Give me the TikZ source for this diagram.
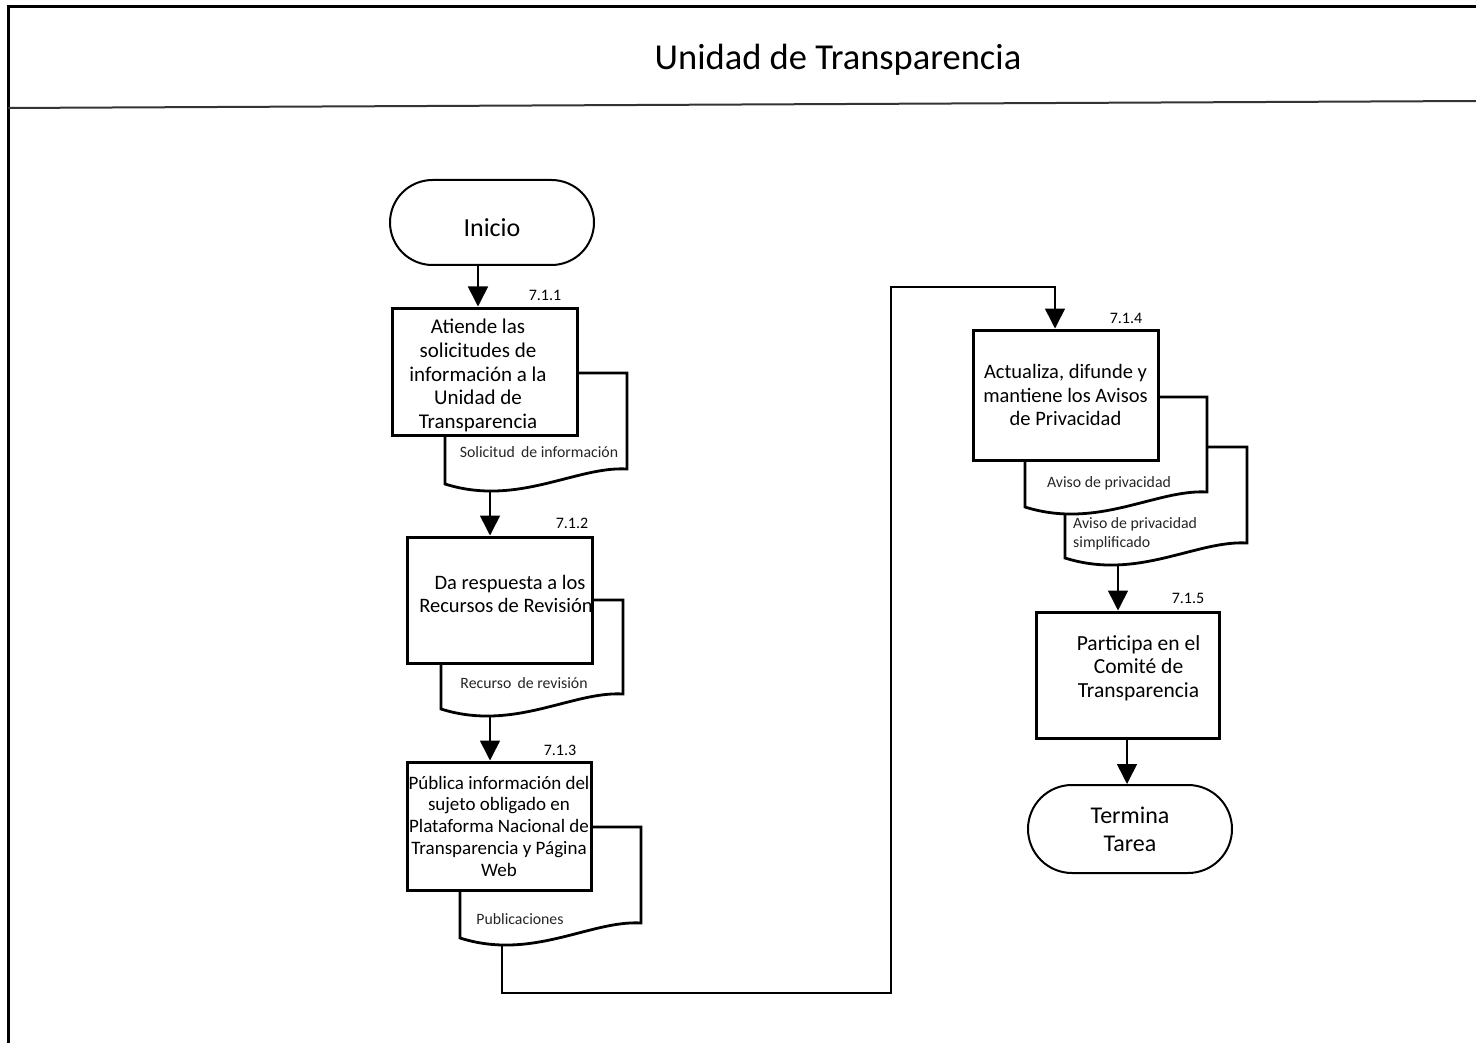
\documentclass[tikz,border=0pt]{standalone}
\usepackage{fontspec}
\setmainfont{Carlito}
\usetikzlibrary{arrows.meta,shapes.misc}
\newcommand\docshape[5]{%
  % #1 left, #2 top, #3 right, #4 bottom-right y, #5 style
  \pgfmathsetmacro\dw{#3-#1}
  \draw[#5] (#1,#2) -- (#1,#4+15)
    .. controls ({#1+0.4*\dw},#4+38) and ({#1+0.72*\dw},#4-3) .. (#3,#4)
    -- (#3,#2) -- cycle;}
\tikzset{
  proc/.style={draw, line width=3pt, fill=white, inner sep=2pt, align=center,
    font=\fontsize{20.5}{23.5}\selectfont},
  boxtext/.style={inner sep=0pt, align=center, font=\fontsize{20.5}{23.5}\selectfont},
  term/.style={draw, line width=2pt, fill=white, rounded rectangle, inner sep=0pt,
    align=center, font=\fontsize{24}{28}\selectfont},
  docline/.style={draw, line width=2.8pt, fill=white},
  doctext/.style={font=\fontsize{15.8}{19}\selectfont, inner sep=0pt, text=black!85},
  steplabel/.style={font=\fontsize{16}{18}\selectfont, inner sep=0pt},
  conn/.style={line width=1.6pt, -{Triangle[length=20pt,width=20pt]}},
}
\begin{document}
\begin{tikzpicture}[x=1pt,y=-1pt]
\useasboundingbox (0,0) rectangle (1476,1043);
% frame
\draw[line width=3pt] (8,1043) -- (8,7) -- (1476,7);
\draw[line width=2pt, black!80] (8,108) -- (1476,101);
\node[font=\fontsize{36.5}{42}\selectfont, inner sep=0pt] (title) at (838,60) {Unidad de Transparencia};

% start
\node[term, minimum width=204pt, minimum height=85pt, font=\fontsize{26}{30}\selectfont] (ini) at (492,222.5) {\raisebox{-13.5pt}[0pt][0pt]{Inicio}};

% 7.1.1
\docshape{445}{373}{627}{469}{docline}
\node[doctext] (d1t) at (539,452) {Solicitud\, de información};
\node[proc, minimum width=185pt, minimum height=127pt] (b1) at (484.5,371.5) {};
\node[boxtext, font=\fontsize{21}{23.8}\selectfont] (b1t) at (478,375.5)
  {Atiende las\\solicitudes de\\información a la\\Unidad de\\Transparencia};
\node[steplabel] (s1) at (545,295) {7.1.1};

% 7.1.2
\docshape{441}{600}{623}{694}{docline}
\node[doctext] (d2t) at (524,683) {Recurso\, de revisión};
\node[proc, minimum width=185pt, minimum height=126pt] (b2) at (499.5,600) {};
\node[boxtext] (b2t) at (506,594) {\hspace*{8pt}Da respuesta a los\\Recursos de Revisión};
\node[steplabel] (s2) at (572,523) {7.1.2};

% 7.1.3
\docshape{460}{827}{641}{923}{docline}
\node[doctext] (d3t) at (520,919) {Publicaciones};
\node[proc, minimum width=184pt, minimum height=128pt, inner sep=0pt, font=\fontsize{19}{21.75}\selectfont] (b3) at (499,826)
  {Pública información del\\sujeto obligado en\\Plataforma Nacional de\\Transparencia y Página\\Web};
\node[steplabel] (s3) at (560,750) {7.1.3};

% 7.1.4
\docshape{1065}{447}{1247}{543}{docline}
\node[doctext, align=left, anchor=west] (d5t) at (1073,534) {Aviso de privacidad\\simplificado};
\docshape{1025}{397}{1207}{492}{docline}
\node[doctext] (d4t) at (1109,483) {Aviso de privacidad};
\node[proc, minimum width=185pt, minimum height=130pt] (b4) at (1065.5,395)
  {Actualiza, difunde y\\mantiene los Avisos\\de Privacidad};
\node[steplabel] (s4) at (1126,318) {7.1.4};

% 7.1.5
\node[proc, minimum width=183pt, minimum height=126pt, font=\fontsize{21.5}{23.5}\selectfont] (b5) at (1127.5,675)
  {\hspace*{22pt}Participa en el\\\hspace*{22pt}Comité de\\\hspace*{22pt}Transparencia\\[-6pt]};
\node[steplabel] (s5) at (1188,598) {7.1.5};

% end
\node[term, minimum width=204pt, minimum height=88pt] (fin) at (1130,829) {Termina\\Tarea};

% connectors
\coordinate (x478) at (478,0);
\coordinate (d1b) at (490,490);
\coordinate (d2b) at (490,716);
\coordinate (d3b) at (502,945);
\coordinate (d5b) at (1118,564);
\coordinate (x1127) at (1127,0);
\coordinate (turn1) at (891,993);
\coordinate (turn2) at (1055,287);

\draw[conn] (ini.south -| x478) -- (b1.north -| x478);
\draw[conn] (d1b) -- (d1b |- b2.north);
\draw[conn] (d2b) -- (d2b |- b3.north);
\draw[conn] (d3b) |- (turn1) |- (turn2) -- (turn2 |- b4.north);
\draw[conn] (d5b) -- (d5b |- b5.north);
\draw[conn] (b5.south -| x1127) -- (fin.north -| x1127);
\end{tikzpicture}
\end{document}
